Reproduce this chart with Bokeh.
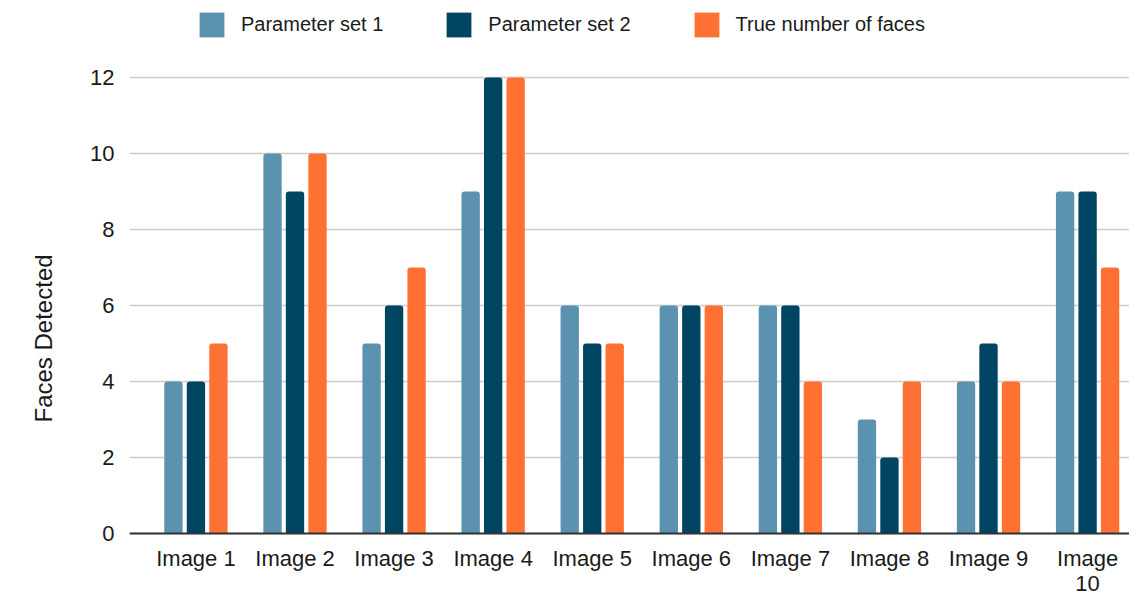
import numpy as np
from bokeh.plotting import figure
from bokeh.models import Range1d, FixedTicker, Legend, LegendItem, Span, Title
from bokeh.core.properties import value
from bokeh.embed import file_html
from bokeh.resources import INLINE

categories = ["Image 1", "Image 2", "Image 3", "Image 4", "Image 5",
              "Image 6", "Image 7", "Image 8", "Image 9", "Image\n10"]
param_set_1 = [4, 10, 5, 9, 6, 6, 6, 3, 4, 9]
param_set_2 = [4, 9, 6, 12, 5, 6, 6, 2, 5, 9]
true_faces = [5, 10, 7, 12, 5, 6, 4, 4, 4, 7]
series_names = ["Parameter set 1", "Parameter set 2", "True number of faces"]
colors = ["#5A92B0", "#004561", "#FF7033"]
y_ticks = [0, 2, 4, 6, 8, 10, 12]
y_title = "Faces Detected"

FONT = "Liberation Sans"
idx = np.arange(len(categories))

p = figure(width=1129, height=595, output_backend="svg", toolbar_location=None,
           x_range=Range1d(-0.6706, 9.423), y_range=Range1d(-1.632, 14.026),
           min_border_left=128, min_border_right=0, min_border_top=0,
           min_border_bottom=0)
p.outline_line_color = None

offsets = [-0.227, 0.0, 0.227]
renderers = []
for vals, off, col in zip([param_set_1, param_set_2, true_faces], offsets, colors):
    r = p.vbar(x=idx + off, top=vals, width=0.185, bottom=0,
               fill_color=col, line_color=None,
               border_radius=(3, 3, 0, 0))
    renderers.append(r)

# category axis: baseline + labels placed on the data scales
p.xaxis.visible = False
p.add_layout(Span(location=0, dimension="width", line_color="#333333", line_width=2))
p.text(x=idx, y=[0] * len(categories), text=categories,
       text_align="center", text_baseline="top", y_offset=13,
       text_font=value(FONT), text_font_size="22px",
       text_line_height=1.0, text_color="#1a1a1a")

p.yaxis.ticker = FixedTicker(ticks=y_ticks)
p.yaxis.axis_line_color = None
p.yaxis.major_tick_line_color = None
p.yaxis.minor_tick_line_color = None
p.yaxis.major_tick_out = 0
p.yaxis.major_tick_in = 0
p.yaxis.major_label_standoff = 15
p.yaxis.major_label_text_font = FONT
p.yaxis.major_label_text_font_size = "22px"
p.yaxis.major_label_text_color = "#1a1a1a"

p.add_layout(Title(text=y_title, align="left", offset=173, standoff=58,
                   vertical_align="top",
                   text_font=FONT, text_font_size="24px", text_font_style="normal",
                   text_color="#1a1a1a"), "left")

p.xgrid.grid_line_color = None
p.ygrid.grid_line_color = "#cccccc"
p.ygrid.grid_line_width = 1.5

legend = Legend(items=[LegendItem(label=n, renderers=[r]) for n, r in zip(series_names, renderers)],
                orientation="horizontal", location=(67, 555),
                glyph_width=31, glyph_height=31, label_standoff=14, spacing=60,
                padding=0, margin=0, border_line_color=None,
                background_fill_alpha=0,
                label_text_font=FONT, label_text_font_size="20px",
                label_text_color="#1a1a1a", label_height=31)
p.add_layout(legend, "center")

open("out.html", "w").write(file_html(p, INLINE))
